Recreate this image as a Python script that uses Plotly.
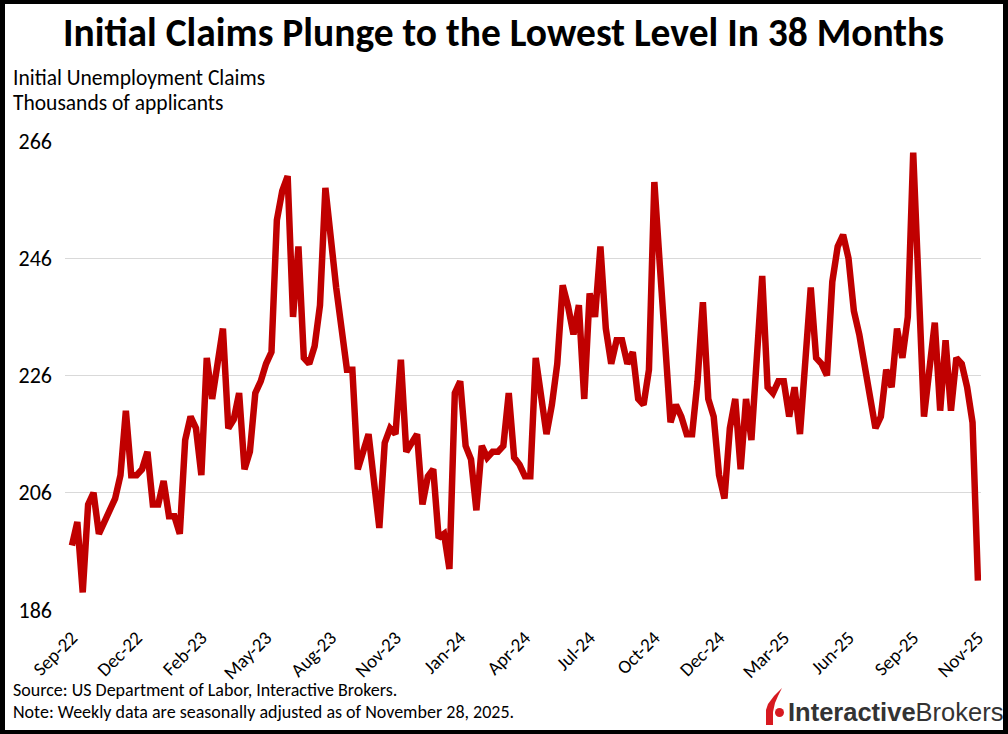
import pandas as pd
import plotly.graph_objects as go

# ---------------- data ----------------
start_week = "2022-09-10"   # week-ending dates, weekly
claims = [
    197, 201, 189, 204, 206, 199, 201, 203, 205, 209,
    220, 209, 209, 210, 213, 204, 204, 208, 202, 202,
    199, 215, 219, 217, 209, 229, 222, 228, 234, 217,
    218.5, 223, 210, 213, 223, 225, 228, 230, 252.5, 257.5,
    260, 236, 248, 229, 228, 231, 238, 258, 248, 241,
    234, 227, 227, 210, 213, 216, 208, 200, 214.5, 217,
    216, 228.7, 213, 214.5, 216, 204, 208.8, 210, 198.3, 199,
    193, 223, 225, 214, 211.7, 203, 214, 212, 213, 213,
    214, 223, 212, 210.8, 208.8, 208.8, 229, 222.5, 216, 221,
    228, 241.4, 237.8, 233, 238, 222, 240, 236, 248, 234,
    228, 232, 232, 228, 230, 222, 221, 227, 259, 245,
    231, 218, 221, 219, 216, 216, 225, 238.5, 222, 219,
    209, 205, 217, 222, 210, 222, 215, 228, 243, 224,
    223, 225, 225, 219, 224, 216, 228, 241, 229, 228,
    226, 242, 248, 250, 246, 237, 233, 228, 222.5, 217,
    219, 227, 224, 234, 229, 236, 264, 242, 219, 227,
    235, 220, 232, 220, 229, 228, 224, 218, 191,
]
tick_labels = ["Sep-22", "Dec-22", "Feb-23", "May-23", "Aug-23", "Nov-23", "Jan-24",
               "Apr-24", "Jul-24", "Oct-24", "Dec-24", "Mar-25", "Jun-25", "Sep-25", "Nov-25"]
y_ticks = [186, 206, 226, 246, 266]

title_text = "Initial Claims Plunge to the Lowest Level In 38 Months"
subtitle_lines = ["Initial Unemployment Claims", "Thousands of applicants"]
source_text = "Source: US Department of Labor, Interactive Brokers."
note_text = "Note: Weekly data are seasonally adjusted as of November 28, 2025."

dates = pd.date_range(start_week, periods=len(claims), freq="7D")
tick_vals = list(dates[::12])

# ---------------- layout helpers ----------------
W, H = 1008, 734
L, R, T, B = 65, 981, 141, 610          # plot area in pixels
PW, PH = R - L, B - T

def px(x):
    return (x - L) / PW

def py(y):
    return (B - y) / PH

FONT = "Carlito, Lato, sans-serif"

fig = go.Figure()
fig.add_trace(go.Scatter(
    x=dates, y=claims, mode="lines",
    line=dict(color="#C00000", width=6.5),
    hoverinfo="x+y", showlegend=False,
))

annotations = [
    dict(text="<b>" + title_text + "</b>", x=px(503), y=py(33), xref="paper", yref="paper",
         xanchor="center", yanchor="middle", showarrow=False,
         font=dict(family=FONT, size=39.5, color="black")),
    dict(text=subtitle_lines[0], x=px(11), y=py(78), xref="paper", yref="paper",
         xanchor="left", yanchor="middle", showarrow=False,
         font=dict(family=FONT, size=21.5, color="black")),
    dict(text=subtitle_lines[1], x=px(11), y=py(103), xref="paper", yref="paper",
         xanchor="left", yanchor="middle", showarrow=False,
         font=dict(family=FONT, size=21.5, color="black")),
    dict(text=source_text, x=px(11), y=py(690), xref="paper", yref="paper",
         xanchor="left", yanchor="middle", showarrow=False,
         font=dict(family=FONT, size=18, color="black")),
    dict(text=note_text, x=px(11), y=py(712), xref="paper", yref="paper",
         xanchor="left", yanchor="middle", showarrow=False,
         font=dict(family=FONT, size=18, color="black")),
    dict(text="<b>Interactive</b>Brokers", x=px(786), y=py(712), xref="paper", yref="paper",
         xanchor="left", yanchor="middle", showarrow=False,
         font=dict(family="Liberation Sans, Arial, sans-serif", size=25.5, color="#333333")),
]

def path_px(points):
    s = ""
    for k, (x, y) in enumerate(points):
        s += ("M" if k == 0 else " L") + f" {px(x):.5f},{py(y):.5f}"
    return s + " Z"

def band(x0, y0, x1, y1):
    return dict(type="path", xref="paper", yref="paper",
                path=path_px([(x0, y0), (x1, y0), (x1, y1), (x0, y1)]),
                fillcolor="black", line=dict(width=0), layer="above")

shapes = [
    # outer black frame
    band(0, 0, W, 4), band(0, H - 4, W, H), band(0, 0, 5, H), band(W - 5, 0, W, H),
    # logo flame
    dict(type="path", xref="paper", yref="paper",
         path=path_px([(782, 688), (774, 696), (768, 704), (766, 710), (766, 725),
                        (773, 725), (773, 712), (775, 703), (778, 696)]),
         fillcolor="#D71920", line=dict(width=0)),
    # logo dot
    dict(type="circle", xref="paper", yref="paper",
         x0=px(775), x1=px(784), y0=py(717), y1=py(708),
         fillcolor="#D71920", line=dict(width=0)),
]

fig.update_layout(
    width=W, height=H,
    margin=dict(l=L, r=W - R, t=T, b=H - B, pad=0),
    paper_bgcolor="white", plot_bgcolor="white",
    showlegend=False,
    annotations=annotations,
    shapes=shapes,
    xaxis=dict(
        range=[pd.Timestamp("2022-09-01"), pd.Timestamp("2025-12-03")],
        tickvals=tick_vals, ticktext=tick_labels, tickangle=-45,
        showgrid=False, zeroline=False, showline=False, ticks="",
        ticklabelstandoff=12,
        tickfont=dict(family=FONT, size=19, color="black"),
    ),
    yaxis=dict(
        range=[186, 266], tickvals=y_ticks, ticktext=[str(v) for v in y_ticks],
        showgrid=True, gridcolor="#d9d9d9", gridwidth=1.3,
        zeroline=False, showline=False, ticks="",
        ticklabelstandoff=12,
        tickfont=dict(family=FONT, size=22, color="black"),
    ),
)

fig.write_html("out.html", config={"displayModeBar": False},
               post_script="document.body.style.margin='0px';")
